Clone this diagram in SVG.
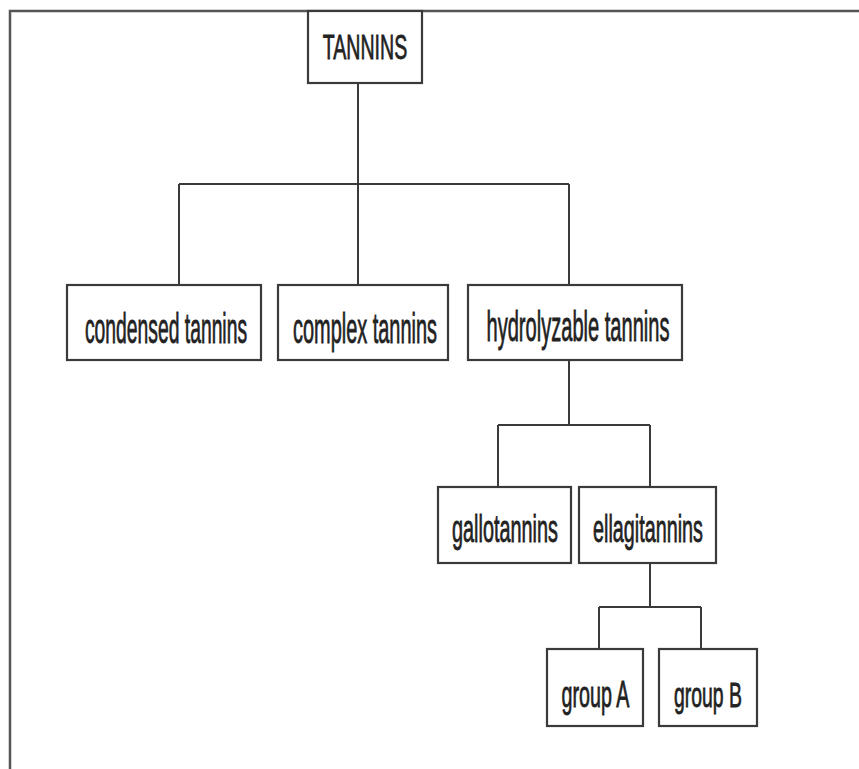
<svg xmlns="http://www.w3.org/2000/svg" width="859" height="769" viewBox="0 0 859 769">
<style>
.box{fill:#ffffff;stroke:#3a3a3a;stroke-width:2.2}
.lbl{font-family:"Liberation Sans",Arial,sans-serif;fill:#222222;stroke:#222222;stroke-width:0.8;text-anchor:middle}
.con line{stroke:#3a3a3a;stroke-width:2;fill:none}
.frame{stroke:#555555;stroke-width:2.5;fill:none}
</style>
<rect x="0" y="0" width="859" height="769" fill="#ffffff"/>
<g id="frame">
<polyline class="frame" points="10,769 10,11 859,11"/>
</g>
<g id="connectors" class="con">
<line x1="358" y1="83" x2="358" y2="285"/>
<line x1="179" y1="184" x2="569" y2="184"/>
<line x1="179" y1="184" x2="179" y2="285"/>
<line x1="569" y1="184" x2="569" y2="285"/>
<line x1="569" y1="360" x2="569" y2="425"/>
<line x1="498" y1="425" x2="650" y2="425"/>
<line x1="498" y1="425" x2="498" y2="487"/>
<line x1="650" y1="425" x2="650" y2="487"/>
<line x1="650" y1="563" x2="650" y2="607"/>
<line x1="599" y1="607" x2="701" y2="607"/>
<line x1="599" y1="607" x2="599" y2="649"/>
<line x1="701" y1="607" x2="701" y2="649"/>
</g>
<g id="tannins">
<rect class="box" x="308" y="11" width="114" height="72"/>
<text class="lbl" transform="translate(365,59) scale(0.544,1)" font-size="36">TANNINS</text>
</g>
<g id="condensed">
<rect class="box" x="67" y="285" width="194" height="75"/>
<text class="lbl" transform="translate(166,343) scale(0.46,1)" font-size="42">condensed tannins</text>
</g>
<g id="complex">
<rect class="box" x="278" y="285" width="170" height="75"/>
<text class="lbl" transform="translate(365,343) scale(0.475,1)" font-size="42">complex tannins</text>
</g>
<g id="hydrolyzable">
<rect class="box" x="468" y="285" width="214" height="75"/>
<text class="lbl" transform="translate(578,341) scale(0.478,1)" font-size="42">hydrolyzable tannins</text>
</g>
<g id="gallotannins">
<rect class="box" x="438" y="487" width="133" height="76"/>
<text class="lbl" transform="translate(505,542) scale(0.509,1)" font-size="39">gallotannins</text>
</g>
<g id="ellagitannins">
<rect class="box" x="579" y="487" width="137" height="76"/>
<text class="lbl" transform="translate(648,542) scale(0.507,1)" font-size="39">ellagitannins</text>
</g>
<g id="groupA">
<rect class="box" x="547" y="649" width="96" height="77"/>
<text class="lbl" transform="translate(595.5,707) scale(0.547,1)" font-size="36">group A</text>
</g>
<g id="groupB">
<rect class="box" x="659" y="649" width="98" height="77"/>
<text class="lbl" transform="translate(708,707) scale(0.539,1)" font-size="36">group B</text>
</g>
</svg>
